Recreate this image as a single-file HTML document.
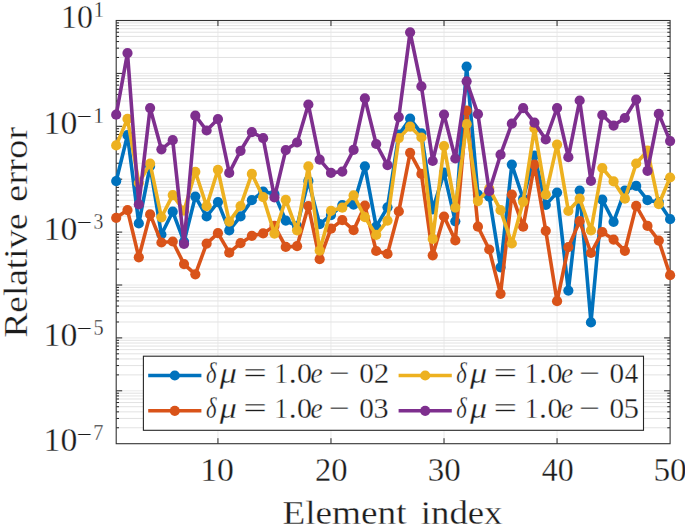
<!DOCTYPE html>
<html><head><meta charset="utf-8"><title>chart</title>
<style>html,body{margin:0;padding:0;background:#fff;}svg{display:block;}text{font-family:"Liberation Serif",serif;fill:#1c1c1c;stroke:#ffffff;stroke-width:0.3px;}</style></head><body>
<svg width="685" height="526" viewBox="0 0 685 526">
<rect x="0" y="0" width="685" height="526" fill="#ffffff"/>
<path d="M116.2 57.48H670.1M116.2 48.16H670.1M116.2 41.55H670.1M116.2 36.42H670.1M116.2 32.24H670.1M116.2 28.69H670.1M116.2 25.63H670.1M116.2 22.92H670.1M116.2 110.38H670.1M116.2 101.06H670.1M116.2 94.45H670.1M116.2 89.32H670.1M116.2 85.14H670.1M116.2 81.59H670.1M116.2 78.53H670.1M116.2 75.82H670.1M116.2 163.28H670.1M116.2 153.96H670.1M116.2 147.35H670.1M116.2 142.22H670.1M116.2 138.04H670.1M116.2 134.49H670.1M116.2 131.43H670.1M116.2 128.72H670.1M116.2 216.18H670.1M116.2 206.86H670.1M116.2 200.25H670.1M116.2 195.12H670.1M116.2 190.94H670.1M116.2 187.39H670.1M116.2 184.33H670.1M116.2 181.62H670.1M116.2 269.08H670.1M116.2 259.76H670.1M116.2 253.15H670.1M116.2 248.02H670.1M116.2 243.84H670.1M116.2 240.29H670.1M116.2 237.23H670.1M116.2 234.52H670.1M116.2 321.98H670.1M116.2 312.66H670.1M116.2 306.05H670.1M116.2 300.92H670.1M116.2 296.74H670.1M116.2 293.19H670.1M116.2 290.13H670.1M116.2 287.42H670.1M116.2 374.88H670.1M116.2 365.56H670.1M116.2 358.95H670.1M116.2 353.82H670.1M116.2 349.64H670.1M116.2 346.09H670.1M116.2 343.03H670.1M116.2 340.32H670.1M116.2 427.78H670.1M116.2 418.46H670.1M116.2 411.85H670.1M116.2 406.72H670.1M116.2 402.54H670.1M116.2 398.99H670.1M116.2 395.93H670.1M116.2 393.22H670.1" stroke="#d6d6d6" stroke-width="0.7" fill="none"/>
<path d="M116.2 73.40H670.1M116.2 126.30H670.1M116.2 179.20H670.1M116.2 232.10H670.1M116.2 285.00H670.1M116.2 337.90H670.1M116.2 390.80H670.1M217.94 20.5V443.7M330.98 20.5V443.7M444.02 20.5V443.7M557.06 20.5V443.7" stroke="#e4e4e4" stroke-width="0.8" fill="none"/>
<path d="M116.2 57.48h2.8M670.1 57.48h-2.8M116.2 48.16h2.8M670.1 48.16h-2.8M116.2 41.55h2.8M670.1 41.55h-2.8M116.2 36.42h2.8M670.1 36.42h-2.8M116.2 32.24h2.8M670.1 32.24h-2.8M116.2 28.69h2.8M670.1 28.69h-2.8M116.2 25.63h2.8M670.1 25.63h-2.8M116.2 22.92h2.8M670.1 22.92h-2.8M116.2 110.38h2.8M670.1 110.38h-2.8M116.2 101.06h2.8M670.1 101.06h-2.8M116.2 94.45h2.8M670.1 94.45h-2.8M116.2 89.32h2.8M670.1 89.32h-2.8M116.2 85.14h2.8M670.1 85.14h-2.8M116.2 81.59h2.8M670.1 81.59h-2.8M116.2 78.53h2.8M670.1 78.53h-2.8M116.2 75.82h2.8M670.1 75.82h-2.8M116.2 163.28h2.8M670.1 163.28h-2.8M116.2 153.96h2.8M670.1 153.96h-2.8M116.2 147.35h2.8M670.1 147.35h-2.8M116.2 142.22h2.8M670.1 142.22h-2.8M116.2 138.04h2.8M670.1 138.04h-2.8M116.2 134.49h2.8M670.1 134.49h-2.8M116.2 131.43h2.8M670.1 131.43h-2.8M116.2 128.72h2.8M670.1 128.72h-2.8M116.2 216.18h2.8M670.1 216.18h-2.8M116.2 206.86h2.8M670.1 206.86h-2.8M116.2 200.25h2.8M670.1 200.25h-2.8M116.2 195.12h2.8M670.1 195.12h-2.8M116.2 190.94h2.8M670.1 190.94h-2.8M116.2 187.39h2.8M670.1 187.39h-2.8M116.2 184.33h2.8M670.1 184.33h-2.8M116.2 181.62h2.8M670.1 181.62h-2.8M116.2 269.08h2.8M670.1 269.08h-2.8M116.2 259.76h2.8M670.1 259.76h-2.8M116.2 253.15h2.8M670.1 253.15h-2.8M116.2 248.02h2.8M670.1 248.02h-2.8M116.2 243.84h2.8M670.1 243.84h-2.8M116.2 240.29h2.8M670.1 240.29h-2.8M116.2 237.23h2.8M670.1 237.23h-2.8M116.2 234.52h2.8M670.1 234.52h-2.8M116.2 321.98h2.8M670.1 321.98h-2.8M116.2 312.66h2.8M670.1 312.66h-2.8M116.2 306.05h2.8M670.1 306.05h-2.8M116.2 300.92h2.8M670.1 300.92h-2.8M116.2 296.74h2.8M670.1 296.74h-2.8M116.2 293.19h2.8M670.1 293.19h-2.8M116.2 290.13h2.8M670.1 290.13h-2.8M116.2 287.42h2.8M670.1 287.42h-2.8M116.2 374.88h2.8M670.1 374.88h-2.8M116.2 365.56h2.8M670.1 365.56h-2.8M116.2 358.95h2.8M670.1 358.95h-2.8M116.2 353.82h2.8M670.1 353.82h-2.8M116.2 349.64h2.8M670.1 349.64h-2.8M116.2 346.09h2.8M670.1 346.09h-2.8M116.2 343.03h2.8M670.1 343.03h-2.8M116.2 340.32h2.8M670.1 340.32h-2.8M116.2 427.78h2.8M670.1 427.78h-2.8M116.2 418.46h2.8M670.1 418.46h-2.8M116.2 411.85h2.8M670.1 411.85h-2.8M116.2 406.72h2.8M670.1 406.72h-2.8M116.2 402.54h2.8M670.1 402.54h-2.8M116.2 398.99h2.8M670.1 398.99h-2.8M116.2 395.93h2.8M670.1 395.93h-2.8M116.2 393.22h2.8M670.1 393.22h-2.8M116.2 73.40h6M670.1 73.40h-6M116.2 126.30h6M670.1 126.30h-6M116.2 179.20h6M670.1 179.20h-6M116.2 232.10h6M670.1 232.10h-6M116.2 285.00h6M670.1 285.00h-6M116.2 337.90h6M670.1 337.90h-6M116.2 390.80h6M670.1 390.80h-6M217.94 20.5v5.5M217.94 443.7v-5.5M330.98 20.5v5.5M330.98 443.7v-5.5M444.02 20.5v5.5M444.02 443.7v-5.5M557.06 20.5v5.5M557.06 443.7v-5.5" stroke="#262626" stroke-width="1" fill="none"/>
<rect x="116.2" y="20.5" width="553.9" height="423.2" fill="none" stroke="#333333" stroke-width="1.1"/>
<polyline points="116.20,181.1 127.50,135.2 138.81,223.4 150.11,166.1 161.42,234.5 172.72,211.7 184.02,241.7 195.33,196.6 206.63,216.5 217.94,202.1 229.24,230.4 240.54,216.4 251.85,200.2 263.15,191.6 274.46,194.0 285.76,220.6 297.07,226.1 308.37,180.9 319.67,224.1 330.98,215.1 342.28,205.1 353.59,204.6 364.89,166.3 376.19,226.7 387.50,207.3 398.80,134.7 410.11,118.7 421.41,133.4 432.71,209.5 444.02,172.7 455.32,221.3 466.63,66.6 477.93,194.7 489.23,196.7 500.54,267.3 511.84,164.6 523.15,198.7 534.45,155.5 545.76,204.9 557.06,192.6 568.36,290.6 579.67,190.6 590.97,322.4 602.28,199.7 613.58,221.8 624.88,190.6 636.19,185.9 647.49,200.2 658.80,202.2 670.10,219.2" fill="none" stroke="#0072BD" stroke-width="3.6" stroke-linejoin="round" stroke-linecap="round"/>
<g fill="#0072BD"><circle cx="116.20" cy="181.1" r="5.1"/><circle cx="127.50" cy="135.2" r="5.1"/><circle cx="138.81" cy="223.4" r="5.1"/><circle cx="150.11" cy="166.1" r="5.1"/><circle cx="161.42" cy="234.5" r="5.1"/><circle cx="172.72" cy="211.7" r="5.1"/><circle cx="184.02" cy="241.7" r="5.1"/><circle cx="195.33" cy="196.6" r="5.1"/><circle cx="206.63" cy="216.5" r="5.1"/><circle cx="217.94" cy="202.1" r="5.1"/><circle cx="229.24" cy="230.4" r="5.1"/><circle cx="240.54" cy="216.4" r="5.1"/><circle cx="251.85" cy="200.2" r="5.1"/><circle cx="263.15" cy="191.6" r="5.1"/><circle cx="274.46" cy="194.0" r="5.1"/><circle cx="285.76" cy="220.6" r="5.1"/><circle cx="297.07" cy="226.1" r="5.1"/><circle cx="308.37" cy="180.9" r="5.1"/><circle cx="319.67" cy="224.1" r="5.1"/><circle cx="330.98" cy="215.1" r="5.1"/><circle cx="342.28" cy="205.1" r="5.1"/><circle cx="353.59" cy="204.6" r="5.1"/><circle cx="364.89" cy="166.3" r="5.1"/><circle cx="376.19" cy="226.7" r="5.1"/><circle cx="387.50" cy="207.3" r="5.1"/><circle cx="398.80" cy="134.7" r="5.1"/><circle cx="410.11" cy="118.7" r="5.1"/><circle cx="421.41" cy="133.4" r="5.1"/><circle cx="432.71" cy="209.5" r="5.1"/><circle cx="444.02" cy="172.7" r="5.1"/><circle cx="455.32" cy="221.3" r="5.1"/><circle cx="466.63" cy="66.6" r="5.1"/><circle cx="477.93" cy="194.7" r="5.1"/><circle cx="489.23" cy="196.7" r="5.1"/><circle cx="500.54" cy="267.3" r="5.1"/><circle cx="511.84" cy="164.6" r="5.1"/><circle cx="523.15" cy="198.7" r="5.1"/><circle cx="534.45" cy="155.5" r="5.1"/><circle cx="545.76" cy="204.9" r="5.1"/><circle cx="557.06" cy="192.6" r="5.1"/><circle cx="568.36" cy="290.6" r="5.1"/><circle cx="579.67" cy="190.6" r="5.1"/><circle cx="590.97" cy="322.4" r="5.1"/><circle cx="602.28" cy="199.7" r="5.1"/><circle cx="613.58" cy="221.8" r="5.1"/><circle cx="624.88" cy="190.6" r="5.1"/><circle cx="636.19" cy="185.9" r="5.1"/><circle cx="647.49" cy="200.2" r="5.1"/><circle cx="658.80" cy="202.2" r="5.1"/><circle cx="670.10" cy="219.2" r="5.1"/></g>
<polyline points="116.20,217.8 127.50,210.1 138.81,257.3 150.11,214.4 161.42,242.5 172.72,241.5 184.02,264.1 195.33,274.3 206.63,243.6 217.94,233.2 229.24,252.6 240.54,243.2 251.85,235.9 263.15,233.4 274.46,225.9 285.76,246.9 297.07,246.2 308.37,206.0 319.67,259.2 330.98,228.7 342.28,220.1 353.59,230.2 364.89,205.7 376.19,251.0 387.50,253.9 398.80,211.4 410.11,152.8 421.41,173.9 432.71,255.3 444.02,216.5 455.32,240.4 466.63,110.7 477.93,226.7 489.23,249.5 500.54,293.8 511.84,194.6 523.15,226.7 534.45,164.7 545.76,230.8 557.06,301.2 568.36,247.1 579.67,221.2 590.97,253.0 602.28,232.0 613.58,239.6 624.88,250.8 636.19,205.9 647.49,225.9 658.80,240.6 670.10,275.2" fill="none" stroke="#D95319" stroke-width="3.6" stroke-linejoin="round" stroke-linecap="round"/>
<g fill="#D95319"><circle cx="116.20" cy="217.8" r="5.1"/><circle cx="127.50" cy="210.1" r="5.1"/><circle cx="138.81" cy="257.3" r="5.1"/><circle cx="150.11" cy="214.4" r="5.1"/><circle cx="161.42" cy="242.5" r="5.1"/><circle cx="172.72" cy="241.5" r="5.1"/><circle cx="184.02" cy="264.1" r="5.1"/><circle cx="195.33" cy="274.3" r="5.1"/><circle cx="206.63" cy="243.6" r="5.1"/><circle cx="217.94" cy="233.2" r="5.1"/><circle cx="229.24" cy="252.6" r="5.1"/><circle cx="240.54" cy="243.2" r="5.1"/><circle cx="251.85" cy="235.9" r="5.1"/><circle cx="263.15" cy="233.4" r="5.1"/><circle cx="274.46" cy="225.9" r="5.1"/><circle cx="285.76" cy="246.9" r="5.1"/><circle cx="297.07" cy="246.2" r="5.1"/><circle cx="308.37" cy="206.0" r="5.1"/><circle cx="319.67" cy="259.2" r="5.1"/><circle cx="330.98" cy="228.7" r="5.1"/><circle cx="342.28" cy="220.1" r="5.1"/><circle cx="353.59" cy="230.2" r="5.1"/><circle cx="364.89" cy="205.7" r="5.1"/><circle cx="376.19" cy="251.0" r="5.1"/><circle cx="387.50" cy="253.9" r="5.1"/><circle cx="398.80" cy="211.4" r="5.1"/><circle cx="410.11" cy="152.8" r="5.1"/><circle cx="421.41" cy="173.9" r="5.1"/><circle cx="432.71" cy="255.3" r="5.1"/><circle cx="444.02" cy="216.5" r="5.1"/><circle cx="455.32" cy="240.4" r="5.1"/><circle cx="466.63" cy="110.7" r="5.1"/><circle cx="477.93" cy="226.7" r="5.1"/><circle cx="489.23" cy="249.5" r="5.1"/><circle cx="500.54" cy="293.8" r="5.1"/><circle cx="511.84" cy="194.6" r="5.1"/><circle cx="523.15" cy="226.7" r="5.1"/><circle cx="534.45" cy="164.7" r="5.1"/><circle cx="545.76" cy="230.8" r="5.1"/><circle cx="557.06" cy="301.2" r="5.1"/><circle cx="568.36" cy="247.1" r="5.1"/><circle cx="579.67" cy="221.2" r="5.1"/><circle cx="590.97" cy="253.0" r="5.1"/><circle cx="602.28" cy="232.0" r="5.1"/><circle cx="613.58" cy="239.6" r="5.1"/><circle cx="624.88" cy="250.8" r="5.1"/><circle cx="636.19" cy="205.9" r="5.1"/><circle cx="647.49" cy="225.9" r="5.1"/><circle cx="658.80" cy="240.6" r="5.1"/><circle cx="670.10" cy="275.2" r="5.1"/></g>
<polyline points="116.20,145.4 127.50,118.9 138.81,183.0 150.11,163.7 161.42,217.3 172.72,195.1 184.02,210.7 195.33,171.8 206.63,206.2 217.94,169.8 229.24,221.6 240.54,206.0 251.85,173.9 263.15,197.2 274.46,233.6 285.76,199.8 297.07,230.3 308.37,166.4 319.67,250.6 330.98,210.8 342.28,207.7 353.59,195.4 364.89,217.2 376.19,234.9 387.50,220.6 398.80,138.1 410.11,126.7 421.41,137.5 432.71,238.9 444.02,146.1 455.32,207.6 466.63,124.2 477.93,201.1 489.23,188.7 500.54,210.2 511.84,243.5 523.15,201.8 534.45,128.4 545.76,194.6 557.06,144.6 568.36,211.0 579.67,198.7 590.97,230.4 602.28,168.0 613.58,181.4 624.88,198.7 636.19,163.5 647.49,150.7 658.80,204.2 670.10,177.5" fill="none" stroke="#EDB120" stroke-width="3.6" stroke-linejoin="round" stroke-linecap="round"/>
<g fill="#EDB120"><circle cx="116.20" cy="145.4" r="5.1"/><circle cx="127.50" cy="118.9" r="5.1"/><circle cx="138.81" cy="183.0" r="5.1"/><circle cx="150.11" cy="163.7" r="5.1"/><circle cx="161.42" cy="217.3" r="5.1"/><circle cx="172.72" cy="195.1" r="5.1"/><circle cx="184.02" cy="210.7" r="5.1"/><circle cx="195.33" cy="171.8" r="5.1"/><circle cx="206.63" cy="206.2" r="5.1"/><circle cx="217.94" cy="169.8" r="5.1"/><circle cx="229.24" cy="221.6" r="5.1"/><circle cx="240.54" cy="206.0" r="5.1"/><circle cx="251.85" cy="173.9" r="5.1"/><circle cx="263.15" cy="197.2" r="5.1"/><circle cx="274.46" cy="233.6" r="5.1"/><circle cx="285.76" cy="199.8" r="5.1"/><circle cx="297.07" cy="230.3" r="5.1"/><circle cx="308.37" cy="166.4" r="5.1"/><circle cx="319.67" cy="250.6" r="5.1"/><circle cx="330.98" cy="210.8" r="5.1"/><circle cx="342.28" cy="207.7" r="5.1"/><circle cx="353.59" cy="195.4" r="5.1"/><circle cx="364.89" cy="217.2" r="5.1"/><circle cx="376.19" cy="234.9" r="5.1"/><circle cx="387.50" cy="220.6" r="5.1"/><circle cx="398.80" cy="138.1" r="5.1"/><circle cx="410.11" cy="126.7" r="5.1"/><circle cx="421.41" cy="137.5" r="5.1"/><circle cx="432.71" cy="238.9" r="5.1"/><circle cx="444.02" cy="146.1" r="5.1"/><circle cx="455.32" cy="207.6" r="5.1"/><circle cx="466.63" cy="124.2" r="5.1"/><circle cx="477.93" cy="201.1" r="5.1"/><circle cx="489.23" cy="188.7" r="5.1"/><circle cx="500.54" cy="210.2" r="5.1"/><circle cx="511.84" cy="243.5" r="5.1"/><circle cx="523.15" cy="201.8" r="5.1"/><circle cx="534.45" cy="128.4" r="5.1"/><circle cx="545.76" cy="194.6" r="5.1"/><circle cx="557.06" cy="144.6" r="5.1"/><circle cx="568.36" cy="211.0" r="5.1"/><circle cx="579.67" cy="198.7" r="5.1"/><circle cx="590.97" cy="230.4" r="5.1"/><circle cx="602.28" cy="168.0" r="5.1"/><circle cx="613.58" cy="181.4" r="5.1"/><circle cx="624.88" cy="198.7" r="5.1"/><circle cx="636.19" cy="163.5" r="5.1"/><circle cx="647.49" cy="150.7" r="5.1"/><circle cx="658.80" cy="204.2" r="5.1"/><circle cx="670.10" cy="177.5" r="5.1"/></g>
<polyline points="116.20,114.7 127.50,53.1 138.81,204.4 150.11,108.1 161.42,149.3 172.72,140.2 184.02,243.9 195.33,115.7 206.63,130.5 217.94,119.1 229.24,172.9 240.54,150.8 251.85,132.1 263.15,138.2 274.46,197.4 285.76,150.1 297.07,142.5 308.37,104.5 319.67,159.7 330.98,172.9 342.28,171.6 353.59,149.9 364.89,98.4 376.19,144.0 387.50,165.1 398.80,117.1 410.11,32.3 421.41,86.4 432.71,161.0 444.02,114.6 455.32,158.5 466.63,81.3 477.93,114.2 489.23,191.2 500.54,154.7 511.84,123.7 523.15,108.2 534.45,122.7 545.76,139.5 557.06,108.0 568.36,157.2 579.67,100.5 590.97,180.9 602.28,115.0 613.58,125.6 624.88,118.0 636.19,99.6 647.49,170.8 658.80,113.9 670.10,141.1" fill="none" stroke="#7E2F8E" stroke-width="3.6" stroke-linejoin="round" stroke-linecap="round"/>
<g fill="#7E2F8E"><circle cx="116.20" cy="114.7" r="5.1"/><circle cx="127.50" cy="53.1" r="5.1"/><circle cx="138.81" cy="204.4" r="5.1"/><circle cx="150.11" cy="108.1" r="5.1"/><circle cx="161.42" cy="149.3" r="5.1"/><circle cx="172.72" cy="140.2" r="5.1"/><circle cx="184.02" cy="243.9" r="5.1"/><circle cx="195.33" cy="115.7" r="5.1"/><circle cx="206.63" cy="130.5" r="5.1"/><circle cx="217.94" cy="119.1" r="5.1"/><circle cx="229.24" cy="172.9" r="5.1"/><circle cx="240.54" cy="150.8" r="5.1"/><circle cx="251.85" cy="132.1" r="5.1"/><circle cx="263.15" cy="138.2" r="5.1"/><circle cx="274.46" cy="197.4" r="5.1"/><circle cx="285.76" cy="150.1" r="5.1"/><circle cx="297.07" cy="142.5" r="5.1"/><circle cx="308.37" cy="104.5" r="5.1"/><circle cx="319.67" cy="159.7" r="5.1"/><circle cx="330.98" cy="172.9" r="5.1"/><circle cx="342.28" cy="171.6" r="5.1"/><circle cx="353.59" cy="149.9" r="5.1"/><circle cx="364.89" cy="98.4" r="5.1"/><circle cx="376.19" cy="144.0" r="5.1"/><circle cx="387.50" cy="165.1" r="5.1"/><circle cx="398.80" cy="117.1" r="5.1"/><circle cx="410.11" cy="32.3" r="5.1"/><circle cx="421.41" cy="86.4" r="5.1"/><circle cx="432.71" cy="161.0" r="5.1"/><circle cx="444.02" cy="114.6" r="5.1"/><circle cx="455.32" cy="158.5" r="5.1"/><circle cx="466.63" cy="81.3" r="5.1"/><circle cx="477.93" cy="114.2" r="5.1"/><circle cx="489.23" cy="191.2" r="5.1"/><circle cx="500.54" cy="154.7" r="5.1"/><circle cx="511.84" cy="123.7" r="5.1"/><circle cx="523.15" cy="108.2" r="5.1"/><circle cx="534.45" cy="122.7" r="5.1"/><circle cx="545.76" cy="139.5" r="5.1"/><circle cx="557.06" cy="108.0" r="5.1"/><circle cx="568.36" cy="157.2" r="5.1"/><circle cx="579.67" cy="100.5" r="5.1"/><circle cx="590.97" cy="180.9" r="5.1"/><circle cx="602.28" cy="115.0" r="5.1"/><circle cx="613.58" cy="125.6" r="5.1"/><circle cx="624.88" cy="118.0" r="5.1"/><circle cx="636.19" cy="99.6" r="5.1"/><circle cx="647.49" cy="170.8" r="5.1"/><circle cx="658.80" cy="113.9" r="5.1"/><circle cx="670.10" cy="141.1" r="5.1"/></g>
<rect x="143.4" y="356.2" width="500.1" height="74.1" fill="#ffffff" stroke="#262626" stroke-width="1.1"/>
<path d="M148.2 375.5H201.4" stroke="#0072BD" stroke-width="3.6"/><circle cx="174.8" cy="375.5" r="5.1" fill="#0072BD"/>
<text transform="translate(205.92,382.70) scale(0.7556,1)" font-size="30" font-style="italic">δ</text>
<text transform="translate(219.70,382.70) scale(1.1418,1)" font-size="30" font-style="italic">μ</text>
<text transform="translate(243.20,382.70) scale(1.3972,1)" font-size="30">=</text>
<text transform="translate(274.23,382.70) scale(0.9143,1)" font-size="30">1</text>
<text transform="translate(288.67,382.70) scale(1.0606,1)" font-size="30">.</text>
<text transform="translate(297.00,382.70) scale(1.0000,1)" font-size="30">0</text>
<text transform="translate(310.48,382.70) scale(0.9145,1)" font-size="30" font-style="italic">e</text>
<text transform="translate(328.94,382.70) scale(1.2411,1)" font-size="30">−</text>
<text transform="translate(359.13,382.70) scale(0.9762,1)" font-size="30">0</text>
<text transform="translate(373.76,382.70) scale(1.0333,1)" font-size="30">2</text>
<path d="M148.2 410.8H201.4" stroke="#D95319" stroke-width="3.6"/><circle cx="174.8" cy="410.8" r="5.1" fill="#D95319"/>
<text transform="translate(205.92,418.00) scale(0.7556,1)" font-size="30" font-style="italic">δ</text>
<text transform="translate(219.70,418.00) scale(1.1418,1)" font-size="30" font-style="italic">μ</text>
<text transform="translate(243.20,418.00) scale(1.3972,1)" font-size="30">=</text>
<text transform="translate(274.23,418.00) scale(0.9143,1)" font-size="30">1</text>
<text transform="translate(288.67,418.00) scale(1.0606,1)" font-size="30">.</text>
<text transform="translate(297.00,418.00) scale(1.0000,1)" font-size="30">0</text>
<text transform="translate(310.48,418.00) scale(0.9145,1)" font-size="30" font-style="italic">e</text>
<text transform="translate(328.94,418.00) scale(1.2411,1)" font-size="30">−</text>
<text transform="translate(359.13,418.00) scale(0.9762,1)" font-size="30">0</text>
<text transform="translate(373.49,418.00) scale(1.0081,1)" font-size="30">3</text>
<path d="M398.6 375.5H451.8" stroke="#EDB120" stroke-width="3.6"/><circle cx="425.2" cy="375.5" r="5.1" fill="#EDB120"/>
<text transform="translate(456.32,382.70) scale(0.7556,1)" font-size="30" font-style="italic">δ</text>
<text transform="translate(470.10,382.70) scale(1.1418,1)" font-size="30" font-style="italic">μ</text>
<text transform="translate(493.60,382.70) scale(1.3972,1)" font-size="30">=</text>
<text transform="translate(524.63,382.70) scale(0.9143,1)" font-size="30">1</text>
<text transform="translate(539.07,382.70) scale(1.0606,1)" font-size="30">.</text>
<text transform="translate(547.40,382.70) scale(1.0000,1)" font-size="30">0</text>
<text transform="translate(560.88,382.70) scale(0.9145,1)" font-size="30" font-style="italic">e</text>
<text transform="translate(579.34,382.70) scale(1.2411,1)" font-size="30">−</text>
<text transform="translate(609.53,382.70) scale(0.9762,1)" font-size="30">0</text>
<text transform="translate(624.86,382.70) scale(0.8986,1)" font-size="30">4</text>
<path d="M398.6 410.8H451.8" stroke="#7E2F8E" stroke-width="3.6"/><circle cx="425.2" cy="410.8" r="5.1" fill="#7E2F8E"/>
<text transform="translate(456.32,418.00) scale(0.7556,1)" font-size="30" font-style="italic">δ</text>
<text transform="translate(470.10,418.00) scale(1.1418,1)" font-size="30" font-style="italic">μ</text>
<text transform="translate(493.60,418.00) scale(1.3972,1)" font-size="30">=</text>
<text transform="translate(524.63,418.00) scale(0.9143,1)" font-size="30">1</text>
<text transform="translate(539.07,418.00) scale(1.0606,1)" font-size="30">.</text>
<text transform="translate(547.40,418.00) scale(1.0000,1)" font-size="30">0</text>
<text transform="translate(560.88,418.00) scale(0.9145,1)" font-size="30" font-style="italic">e</text>
<text transform="translate(579.34,418.00) scale(1.2411,1)" font-size="30">−</text>
<text transform="translate(609.53,418.00) scale(0.9762,1)" font-size="30">0</text>
<text transform="translate(623.54,418.00) scale(1.0333,1)" font-size="30">5</text>
<text transform="translate(200.20,481.10) scale(1.0240,1)" font-size="33">10</text>
<text transform="translate(314.97,481.10) scale(0.9881,1)" font-size="33">20</text>
<text transform="translate(427.67,481.10) scale(0.9990,1)" font-size="33">30</text>
<text transform="translate(541.72,481.10) scale(0.9671,1)" font-size="33">40</text>
<text transform="translate(653.40,481.10) scale(1.0101,1)" font-size="33">50</text>
<text transform="translate(61.12,28.20) scale(0.9683,1)" font-size="33">10</text>
<text transform="translate(93.85,16.70) scale(0.9143,1)" font-size="22.5">1</text>
<text transform="translate(43.56,134.00) scale(1.0240,1)" font-size="33">10</text>
<text transform="translate(76.61,124.20) scale(1.2388,1)" font-size="22.5">−</text>
<text transform="translate(93.27,123.00) scale(0.9524,1)" font-size="22.5">1</text>
<text transform="translate(43.56,239.80) scale(1.0240,1)" font-size="33">10</text>
<text transform="translate(76.61,230.00) scale(1.2388,1)" font-size="22.5">−</text>
<text transform="translate(93.61,228.80) scale(0.8780,1)" font-size="22.5">3</text>
<text transform="translate(43.56,345.60) scale(1.0240,1)" font-size="33">10</text>
<text transform="translate(76.61,335.80) scale(1.2388,1)" font-size="22.5">−</text>
<text transform="translate(93.38,334.60) scale(0.9000,1)" font-size="22.5">5</text>
<text transform="translate(43.56,451.40) scale(1.0240,1)" font-size="33">10</text>
<text transform="translate(76.61,441.60) scale(1.2388,1)" font-size="22.5">−</text>
<text transform="translate(93.18,440.40) scale(0.9000,1)" font-size="22.5">7</text>
<text transform="translate(282.38,523.50) scale(1.0812,1)" font-size="34.5">Element</text>
<text transform="translate(420.76,523.50) scale(1.0668,1)" font-size="34.5">index</text>
<text transform="translate(26.60,337.52) rotate(-90) scale(1.0805,1)" font-size="34.5">Relative</text>
<text transform="translate(26.60,202.05) rotate(-90) scale(1.1226,1)" font-size="34.5">error</text>
</svg></body></html>
